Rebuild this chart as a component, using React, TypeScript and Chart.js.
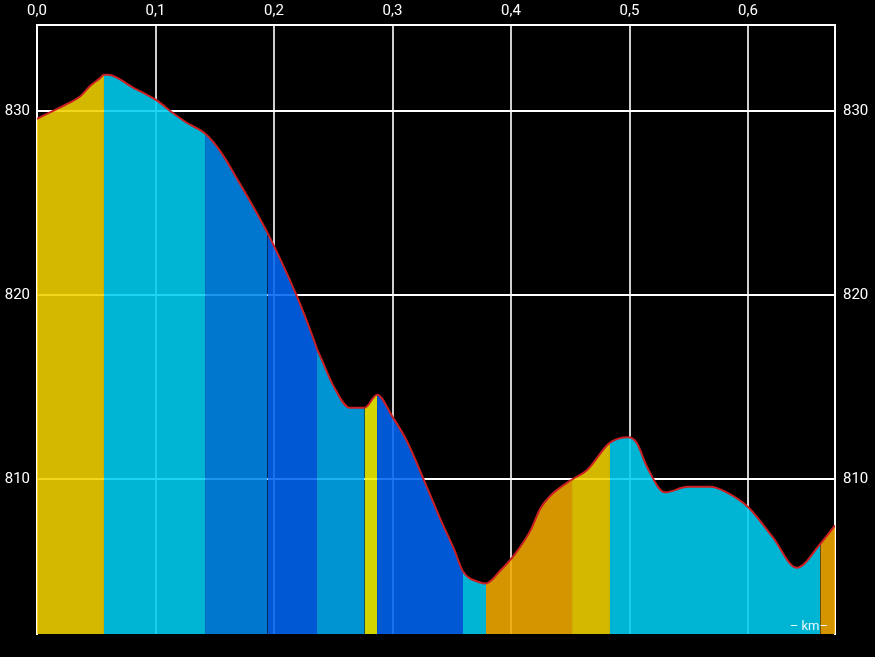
import React, { useEffect, useRef } from "react";
import { Chart, registerables } from "chart.js";

Chart.register(...registerables);

// Distance along the route (km) and elevation (m)
const distanceKm = [
  0.0, 0.011, 0.025, 0.036, 0.045, 0.053, 0.0565, 0.06, 0.081, 0.101, 0.115, 0.126,
  0.1418, 0.154, 0.171, 0.1945, 0.219, 0.233, 0.2363, 0.241, 0.25, 0.264, 0.2765,
  0.287, 0.3, 0.312, 0.326, 0.34, 0.352, 0.3595, 0.374, 0.3789, 0.391, 0.404, 0.417,
  0.4245, 0.433, 0.4515, 0.464, 0.4835, 0.499, 0.506, 0.515, 0.53, 0.549, 0.568,
  0.582, 0.6, 0.621, 0.641, 0.661, 0.6734,
];
const elevationM = [
  829.6, 829.95, 830.4, 830.8, 831.4, 831.8, 832.0, 832.0, 831.3, 830.6, 829.9, 829.4,
  828.8, 827.9, 826.1, 823.4, 820.0, 817.7, 817.1, 816.4, 815.1, 813.9, 813.9,
  814.6, 813.4, 812.1, 810.05, 807.9, 806.2, 805.0, 804.4, 804.35, 805.05, 806.0, 807.3,
  808.4, 809.1, 810.0, 810.5, 812.0, 812.3, 812.0, 810.65, 809.3, 809.6, 809.6,
  809.3, 808.5, 806.85, 805.2, 806.5, 807.5,
];

// Colour zones along the profile (end distance of each zone, km)
const zoneEnds = [0.0565, 0.1418, 0.1945, 0.2363, 0.2765, 0.287, 0.3595, 0.3789, 0.4515, 0.4835, 0.661, 0.6734];
const zoneColors = [
  "rgba(241,209,0,0.88)",
  "rgba(0,205,241,0.88)",
  "rgba(0,136,236,0.88)",
  "rgba(0,100,241,0.88)",
  "rgba(0,170,239,0.88)",
  "rgba(241,241,0,0.88)",
  "rgba(0,100,243,0.88)",
  "rgba(0,205,241,0.88)",
  "rgba(241,170,0,0.88)",
  "rgba(241,209,0,0.88)",
  "rgba(0,205,241,0.88)",
  "rgba(241,170,0,0.88)",
];

const xTicks = [0, 0.1, 0.2, 0.3, 0.4, 0.5, 0.6];
const yTicks = [810, 820, 830];
const xMax = 0.6734;
const yMin = 801.6;
const yMax = 834.7;
const unitLabel = "– km–";

function zoneColorAt(x: number): string {
  for (let i = 0; i < zoneEnds.length; i++) {
    if (x < zoneEnds[i]) return zoneColors[i];
  }
  return zoneColors[zoneColors.length - 1];
}

const FONT = "Roboto";

export default function App() {
  const ref = useRef<HTMLCanvasElement>(null);

  useEffect(() => {
    document.body.style.background = "#000";
    const canvas = ref.current!;
    const unitPlugin = {
      id: "unitLabel",
      afterDraw(chart: any) {
        const { ctx, chartArea } = chart;
        ctx.save();
        ctx.font = `13px ${FONT}`;
        ctx.fillStyle = "rgba(255,255,255,0.9)";
        ctx.textAlign = "right";
        ctx.textBaseline = "bottom";
        ctx.fillText(unitLabel, chartArea.right - 7, chartArea.bottom - 1);
        ctx.restore();
      },
    };
    const chart = new Chart(canvas, {
      type: "line",
      data: {
        datasets: [
          {
            data: distanceKm.map((d, i) => ({ x: d, y: elevationM[i] })),
            borderColor: "#cc1f24",
            borderWidth: 2,
            pointRadius: 0,
            fill: "start",
            backgroundColor: zoneColors[0],
            cubicInterpolationMode: "monotone",
            segment: {
              backgroundColor: (ctx: any) =>
                zoneColorAt((ctx.p0.parsed.x + ctx.p1.parsed.x) / 2),
            },
          } as any,
        ],
      },
      plugins: [unitPlugin],
      options: {
        animation: false,
        responsive: false,
        devicePixelRatio: 1,
        layout: { padding: { left: 0, right: 0, top: 0, bottom: 23 } },
        plugins: { legend: { display: false }, tooltip: { enabled: false } },
        scales: {
          x: {
            type: "linear",
            position: "top",
            min: 0,
            max: xMax,
            afterBuildTicks: (s: any) => {
              s.ticks = xTicks.map((v) => ({ value: v }));
            },
            afterFit: (s: any) => {
              s.height = 25;
            },
            ticks: {
              color: "#fff",
              font: { family: FONT, size: 15 },
              padding: 5,
              maxRotation: 0,
              callback: (v: any) => Number(v).toFixed(1).replace(".", ","),
            },
            grid: { color: "#cfcfcf", lineWidth: 2, drawTicks: false },
            border: { display: true, color: "#ffffff", width: 2 },
          },
          y: {
            type: "linear",
            position: "left",
            min: yMin,
            max: yMax,
            afterBuildTicks: (s: any) => {
              s.ticks = yTicks.map((v) => ({ value: v }));
            },
            afterFit: (s: any) => {
              s.width = 37;
            },
            ticks: {
              color: "#fff",
              font: { family: FONT, size: 15 },
              padding: 7,
              callback: (v: any) => String(Math.round(Number(v))),
            },
            grid: { color: "#ffffff", lineWidth: 2, drawTicks: false },
            border: { display: true, color: "#ffffff", width: 2 },
          },
          y2: {
            type: "linear",
            position: "right",
            min: yMin,
            max: yMax,
            afterBuildTicks: (s: any) => {
              s.ticks = yTicks.map((v) => ({ value: v }));
            },
            afterFit: (s: any) => {
              s.width = 40;
            },
            ticks: {
              color: "#fff",
              font: { family: FONT, size: 15 },
              padding: 8,
              callback: (v: any) => String(Math.round(Number(v))),
            },
            grid: { display: false, drawTicks: false },
            border: { display: true, color: "#ffffff", width: 2 },
          },
        },
      } as any,
    });
    return () => chart.destroy();
  }, []);

  return (
    <div style={{ position: "absolute", left: 0, top: 0, width: 875, height: 657, background: "#000" }}>
      <canvas ref={ref} width={875} height={657} style={{ display: "block" }} />
    </div>
  );
}
